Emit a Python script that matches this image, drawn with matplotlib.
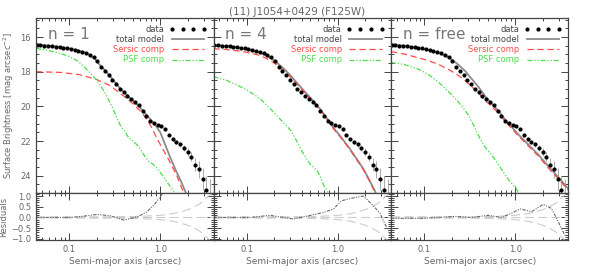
import matplotlib
matplotlib.use("Agg")
import matplotlib.pyplot as plt
from matplotlib.ticker import MultipleLocator, FixedLocator, NullFormatter, FixedFormatter

# surface brightness profile
data_r = [0.044, 0.048, 0.053, 0.059, 0.065, 0.071, 0.078, 0.086, 0.095, 0.104,
          0.115, 0.126, 0.139, 0.153, 0.168, 0.185, 0.203, 0.224, 0.246, 0.271,
          0.298, 0.328, 0.360, 0.396, 0.436, 0.480, 0.528, 0.580, 0.638, 0.702,
          0.772, 0.850, 0.935, 1.03, 1.13, 1.24, 1.37, 1.50, 1.65, 1.82,
          2.00, 2.20, 2.42, 2.66, 2.93, 3.22, 3.55]
data_mu = [16.46, 16.47, 16.49, 16.51, 16.53, 16.55, 16.58, 16.62, 16.66, 16.70,
           16.75, 16.79, 16.84, 16.91, 17.01, 17.13, 17.40, 17.72, 17.98, 18.19,
           18.45, 18.70, 18.97, 19.19, 19.40, 19.58, 19.77, 19.94, 20.24, 20.54,
           20.84, 20.96, 21.07, 21.15, 21.33, 21.65, 21.91, 22.07, 22.20, 22.40,
           22.65, 22.90, 23.37, 23.64, 24.20, 24.85, 25.50]
data_err = [0.02] * 24 + [0.03] * 8 + [0.04, 0.05, 0.06, 0.07, 0.08, 0.10, 0.13, 0.17,
                                       0.22, 0.28, 0.38, 0.48, 0.62, 0.85, 1.30]

labels = ["n = 1", "n = 4", "n = free"]

# n = 1
tot1_r = [0.043, 0.06, 0.08, 0.10, 0.13, 0.16, 0.19, 0.22, 0.26, 0.30, 0.36, 0.43,
          0.52, 0.62, 0.78, 0.90, 1.00, 1.15, 1.30, 1.50, 1.70, 1.88, 2.00]
tot1_mu = [16.42, 16.50, 16.57, 16.66, 16.80, 16.97, 17.25, 17.65, 18.05, 18.45, 18.95, 19.35,
           19.75, 20.15, 20.75, 21.15, 21.50, 22.30, 23.00, 23.75, 24.35, 24.90, 25.20]
ser1_r = [0.043, 0.08, 0.13, 0.20, 0.28, 0.395, 0.50, 0.60, 0.70, 0.80, 0.92, 1.05,
          1.23, 1.52, 1.73, 1.90]
ser1_mu = [18.00, 18.04, 18.17, 18.45, 18.80, 19.40, 19.85, 20.25, 20.70, 21.20, 21.85, 22.40,
           23.05, 24.00, 24.74, 25.20]
psf1_r = [0.043, 0.06, 0.08, 0.10, 0.125, 0.15, 0.175, 0.20, 0.23, 0.26, 0.30, 0.33, 0.36,
          0.40, 0.45, 0.50, 0.55, 0.60, 0.66, 0.74, 0.84, 0.95, 1.08, 1.22, 1.40, 1.55]
psf1_mu = [16.65, 16.78, 16.95, 17.12, 17.40, 17.78, 18.15, 18.50, 18.95, 19.45, 20.10, 20.60, 21.05,
           21.40, 21.80, 22.00, 22.20, 22.45, 22.80, 23.15, 23.35, 23.65, 24.05, 24.45, 24.90, 25.20]

# n = 4
tot2_r = [0.043, 0.06, 0.08, 0.10, 0.13, 0.16, 0.20, 0.25, 0.30, 0.36, 0.43, 0.52, 0.64,
          0.80, 0.90, 1.06, 1.36, 1.60, 1.91, 2.20, 2.57, 2.70]
tot2_mu = [16.45, 16.52, 16.60, 16.69, 16.84, 17.02, 17.35, 17.78, 18.20, 18.67, 19.13, 19.60, 20.15,
           20.85, 21.25, 21.70, 22.45, 23.00, 23.60, 24.20, 24.90, 25.20]
ser2_r = [0.043, 0.06, 0.08, 0.10, 0.13, 0.16, 0.20, 0.25, 0.30, 0.36, 0.43, 0.52, 0.64,
          0.80, 0.90, 1.06, 1.36, 1.60, 1.91, 2.20, 2.50, 2.65]
ser2_mu = [16.67, 16.72, 16.80, 16.88, 17.02, 17.20, 17.50, 17.90, 18.30, 18.75, 19.20, 19.65, 20.20,
           20.90, 21.30, 21.75, 22.50, 23.05, 23.65, 24.25, 24.85, 25.20]
psf2_r = [0.043, 0.06, 0.08, 0.10, 0.125, 0.143, 0.175, 0.215, 0.26, 0.305, 0.35, 0.39,
          0.45, 0.50, 0.55, 0.60, 0.66, 0.70, 0.77, 0.82]
psf2_mu = [18.28, 18.50, 18.80, 19.05, 19.38, 19.60, 20.05, 20.55, 21.00, 21.40, 21.95, 22.45,
           23.00, 23.35, 23.55, 23.75, 24.20, 24.55, 24.90, 25.20]

# n = free
tot3_r = [0.043, 0.06, 0.086, 0.11, 0.143, 0.19, 0.237, 0.28, 0.33, 0.39, 0.465, 0.55,
          0.65, 0.80, 1.08, 1.40, 1.79, 2.30, 2.97, 3.82]
tot3_mu = [16.42, 16.50, 16.62, 16.74, 16.90, 17.20, 17.60, 17.95, 18.40, 18.85, 19.40, 19.85,
           20.25, 20.85, 21.62, 22.22, 22.78, 23.45, 24.08, 24.75]
ser3_r = tot3_r
ser3_mu = [16.84, 16.98, 17.20, 17.35, 17.58, 17.90, 18.22, 18.50, 18.85, 19.20, 19.65, 20.00,
           20.38, 20.95, 21.70, 22.30, 22.86, 23.55, 24.17, 24.85]
psf3_r = [0.043, 0.06, 0.086, 0.11, 0.143, 0.18, 0.22, 0.26, 0.30, 0.35, 0.40, 0.45,
          0.50, 0.55, 0.62, 0.70, 0.77, 0.88, 1.03, 1.12]
psf3_mu = [17.47, 17.58, 17.85, 18.15, 18.60, 19.10, 19.55, 20.00, 20.45, 21.10, 21.75, 22.25,
           22.55, 22.80, 23.20, 23.60, 23.95, 24.35, 24.75, 25.10]

# residuals
res1_r = [0.043, 0.062, 0.103, 0.144, 0.201, 0.282, 0.395, 0.555, 0.714, 0.88, 1.04, 1.10]
res1 = [0.0, 0.0, 0.0, 0.06, 0.14, 0.08, -0.12, 0.02, 0.26, 0.65, 1.07, 1.25]
res2_r = [0.043, 0.109, 0.18, 0.325, 0.50, 0.695, 0.90, 1.10, 1.36, 1.91, 2.46, 2.90, 3.30, 3.80]
res2 = [0.0, 0.0, 0.10, -0.07, 0.10, 0.23, 0.40, 0.78, 0.88, 1.00, 0.55, 0.20, -0.30, -0.80]
res3_r = [0.043, 0.094, 0.142, 0.217, 0.33, 0.505, 0.707, 0.91, 1.13, 1.51, 2.03, 2.50,
          2.97, 3.51, 3.82]
res3 = [-0.04, -0.04, 0.0, 0.05, 0.0, 0.10, 0.0, 0.20, 0.40, 0.27, 0.61, 0.42, -0.20, -0.82, -1.05]
env_r = [0.043, 0.3, 0.6, 1.0, 1.4, 1.8, 2.2, 2.75, 3.2, 3.6, 3.9]
env_err = [0.03, 0.03, 0.05, 0.10, 0.18, 0.30, 0.42, 0.65, 0.90, 1.10, 1.25]

totals = [(tot1_r, tot1_mu), (tot2_r, tot2_mu), (tot3_r, tot3_mu)]
sersics = [(ser1_r, ser1_mu), (ser2_r, ser2_mu), (ser3_r, ser3_mu)]
psfs = [(psf1_r, psf1_mu), (psf2_r, psf2_mu), (psf3_r, psf3_mu)]
resids = [(res1_r, res1), (res2_r, res2), (res3_r, res3)]

TXT = "#666666"
AXC = "#444444"
RED = "#ff4a4a"
GRN = "#4cdc4c"
plt.rcParams["font.family"] = "DejaVu Sans"
plt.rcParams["axes.linewidth"] = 0.9

fig = plt.figure(figsize=(5.94, 2.77), dpi=100)
W, H = 594.0, 277.0


def style(ax):
    ax.set_xscale("log")
    ax.set_xlim(0.043, 3.85)
    ax.tick_params(which="both", direction="in", top=True, right=True,
                   colors=AXC, labelcolor=TXT, labelsize=6, width=0.7)
    ax.tick_params(which="major", length=5)
    ax.tick_params(which="minor", length=2.5)
    for s in ax.spines.values():
        s.set_color(AXC)


for i in range(3):
    left = (36 + 177.5 * i) / W
    ax = fig.add_axes([left, 1 - 193 / H, 177.5 / W, 175 / H])
    rax = fig.add_axes([left, 1 - 240 / H, 177.5 / W, 47 / H])
    style(ax)
    style(rax)

    ax.errorbar(data_r, data_mu, yerr=data_err, fmt="none", ecolor="#aaaaaa",
                elinewidth=0.7, capsize=0)
    ax.plot(*totals[i], color="#8c8c8c", lw=1.3, label="total model")
    ax.plot(*sersics[i], color=RED, lw=0.9, ls=(0, (5, 3)), label="Sersic comp")
    ax.plot(*psfs[i], color=GRN, lw=0.9, ls=(0, (4, 1.5, 1, 1.5, 1, 1.5)), label="PSF comp")
    ax.plot(data_r, data_mu, "o", color="black", ms=2.0, ls="none", label="data")
    ax.set_ylim(25.0, 14.9)
    ax.yaxis.set_major_locator(FixedLocator([16, 18, 20, 22, 24]))
    ax.yaxis.set_minor_locator(MultipleLocator(0.5))
    ax.xaxis.set_major_formatter(NullFormatter())
    ax.xaxis.set_minor_formatter(NullFormatter())
    ax.text(0.065, 0.95, labels[i], transform=ax.transAxes, ha="left", va="top",
            fontsize=11, color="#777777")

    h, l = ax.get_legend_handles_labels()
    order = [3, 0, 1, 2]
    ax.legend([h[k] for k in order], [l[k] for k in order], loc="upper right",
              frameon=False, markerfirst=False, fontsize=6, numpoints=4,
              handlelength=4.5, handletextpad=0.6, labelspacing=0.15,
              borderaxespad=0.4,
              labelcolor=["#444444", "#444444", RED, GRN])

    rax.plot(env_r, env_err, color="#cccccc", lw=0.8, ls=(0, (8, 4)))
    rax.plot(env_r, [-e for e in env_err], color="#cccccc", lw=0.8, ls=(0, (8, 4)))
    rax.plot(env_r, [0.0] * len(env_r), color="#cccccc", lw=0.8, ls=(0, (8, 4)))
    rax.plot(*resids[i], color="#666666", lw=0.8, ls=(0, (3, 1.2, 1, 1.2, 1, 1.2)))
    rax.set_ylim(-1.05, 1.14)
    rax.yaxis.set_major_locator(FixedLocator([-1.0, -0.5, 0.0, 0.5, 1.0]))
    rax.yaxis.set_minor_locator(MultipleLocator(0.1))
    rax.xaxis.set_major_locator(FixedLocator([0.1, 1.0]))
    rax.xaxis.set_major_formatter(FixedFormatter(["0.1", "1.0"]))
    rax.xaxis.set_minor_formatter(NullFormatter())
    rax.set_xlabel("Semi-major axis (arcsec)", fontsize=6.5, color=TXT, labelpad=2)

    if i == 0:
        ax.set_ylabel("Surface Brightness [mag arcsec$^{-2}$]", fontsize=6, color=TXT, labelpad=3)
        rax.set_ylabel("Residuals", fontsize=6, color=TXT, labelpad=2)
        rax.yaxis.set_major_formatter(FixedFormatter(["\u22121.0", "\u22120.5", "0.0", "0.5", "1.0"]))
    else:
        ax.yaxis.set_major_formatter(NullFormatter())
        rax.yaxis.set_major_formatter(NullFormatter())

fig.text(0.5, 0.955, "(11) J1054+0429 (F125W)", ha="center", va="center",
         fontsize=7.5, color=TXT)

fig.savefig("out.png", dpi=100)
